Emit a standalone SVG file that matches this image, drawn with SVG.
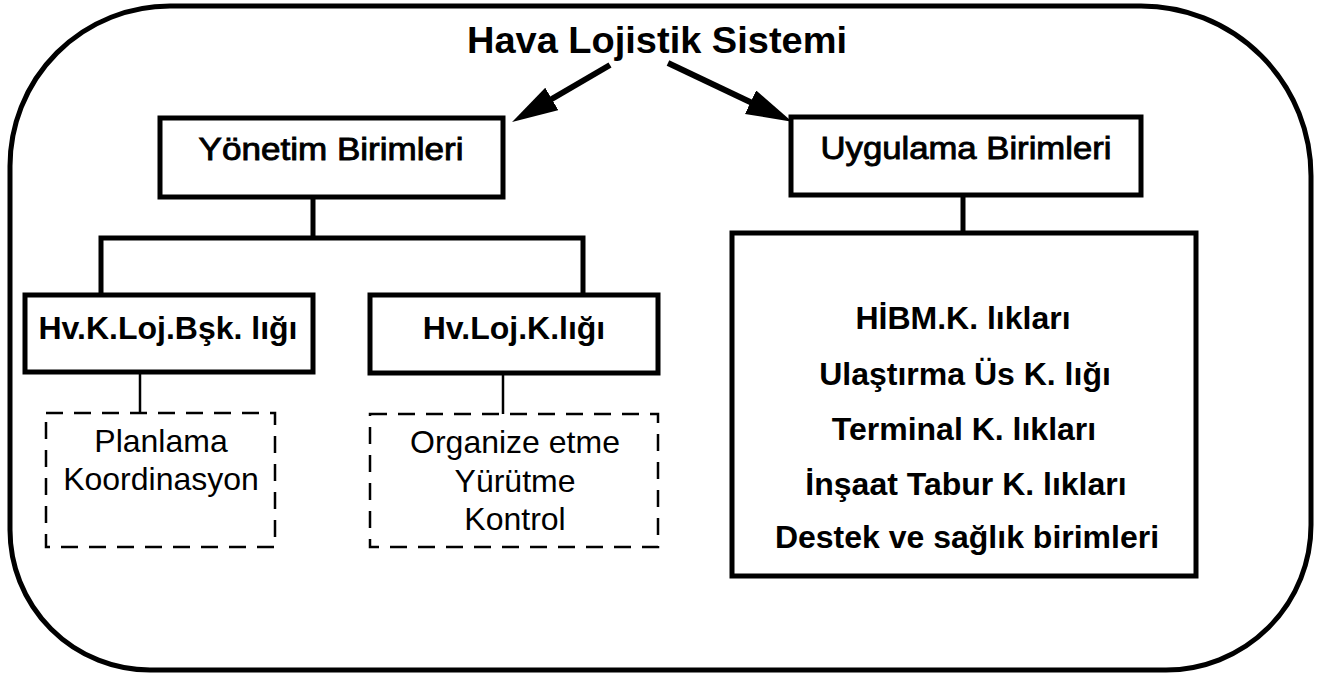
<svg xmlns="http://www.w3.org/2000/svg" width="1318" height="675" viewBox="0 0 1318 675">
  <style>
    .frame { fill: none; stroke: #000; stroke-width: 5; }
    .box { fill: #fff; stroke: #000; stroke-width: 5; }
    .dash { fill: #fff; stroke: #000; stroke-width: 2.5; stroke-dasharray: 17 11; }
    .link { fill: none; stroke: #000; stroke-width: 5; }
    .thin { fill: none; stroke: #000; stroke-width: 2.5; }
    .arrow { fill: none; stroke: #000; stroke-width: 6; }
    text { font-family: "Liberation Sans", Arial, sans-serif; fill: #000; text-anchor: middle; }
    .title { font-size: 37px; font-weight: bold; }
    .head { font-size: 32px; stroke: #000; stroke-width: 0.9; }
    .bold { font-size: 32px; font-weight: bold; }
    .plain { font-size: 32px; }
  </style>
  <defs>
    <marker id="tip" markerUnits="userSpaceOnUse" markerWidth="48" markerHeight="28" refX="16" refY="13" orient="auto">
      <path d="M0,0 L46,13 L0,26 Z" fill="#000"/>
    </marker>
  </defs>

  <rect width="1318" height="675" fill="#fff"/>

  <!-- outer rounded frame -->
  <path class="frame" d="M170,6 H1141 A170 170 0 0 1 1311 176 V525 A145 145 0 0 1 1166 670 H150 A140 140 0 0 1 10 530 V166 A160 160 0 0 1 170 6 Z"/>

  <g id="title">
    <text class="title" x="657" y="53" textLength="380" lengthAdjust="spacingAndGlyphs">Hava Lojistik Sistemi</text>
  </g>

  <g id="connectors">
    <line class="arrow" x1="610" y1="65" x2="538" y2="107" marker-end="url(#tip)"/>
    <line class="arrow" x1="668" y1="63" x2="765" y2="109" marker-end="url(#tip)"/>
    <polyline class="link" points="313,197 313,238"/>
    <polyline class="link" points="101,295 101,238 583,238 583,295"/>
    <line class="thin" x1="140" y1="372" x2="140" y2="413"/>
    <line class="thin" x1="503" y1="373" x2="503" y2="414"/>
    <line class="link" x1="963" y1="195" x2="963" y2="233"/>
  </g>

  <g id="yonetim">
    <rect class="box" x="160" y="118" width="343" height="79"/>
    <text class="head" x="331" y="160" textLength="265" lengthAdjust="spacingAndGlyphs">Yönetim Birimleri</text>
  </g>

  <g id="uygulama">
    <rect class="box" x="791" y="117" width="350" height="78"/>
    <text class="head" x="966" y="159" textLength="291" lengthAdjust="spacingAndGlyphs">Uygulama Birimleri</text>
  </g>

  <g id="hv-k-loj-bsk">
    <rect class="box" x="25" y="295" width="288" height="77"/>
    <text class="bold" x="168" y="339">Hv.K.Loj.Bşk. lığı</text>
  </g>

  <g id="hv-loj-k">
    <rect class="box" x="370" y="295" width="288" height="78"/>
    <text class="bold" x="514" y="339">Hv.Loj.K.lığı</text>
  </g>

  <g id="planlama">
    <rect class="dash" x="46" y="413" width="229" height="134"/>
    <text class="plain" x="161" y="452">Planlama</text>
    <text class="plain" x="161" y="490">Koordinasyon</text>
  </g>

  <g id="organize">
    <rect class="dash" x="370" y="414" width="288" height="133"/>
    <text class="plain" x="515" y="453">Organize etme</text>
    <text class="plain" x="515" y="492">Yürütme</text>
    <text class="plain" x="515" y="530">Kontrol</text>
  </g>

  <g id="uygulama-birimleri-list">
    <rect class="box" x="732" y="233" width="464" height="343"/>
    <text class="bold" x="963" y="329">HİBM.K. lıkları</text>
    <text class="bold" x="965" y="385">Ulaştırma Üs K. lığı</text>
    <text class="bold" x="964" y="440">Terminal K. lıkları</text>
    <text class="bold" x="966" y="495">İnşaat Tabur K. lıkları</text>
    <text class="bold" x="967" y="548">Destek ve sağlık birimleri</text>
  </g>
</svg>
